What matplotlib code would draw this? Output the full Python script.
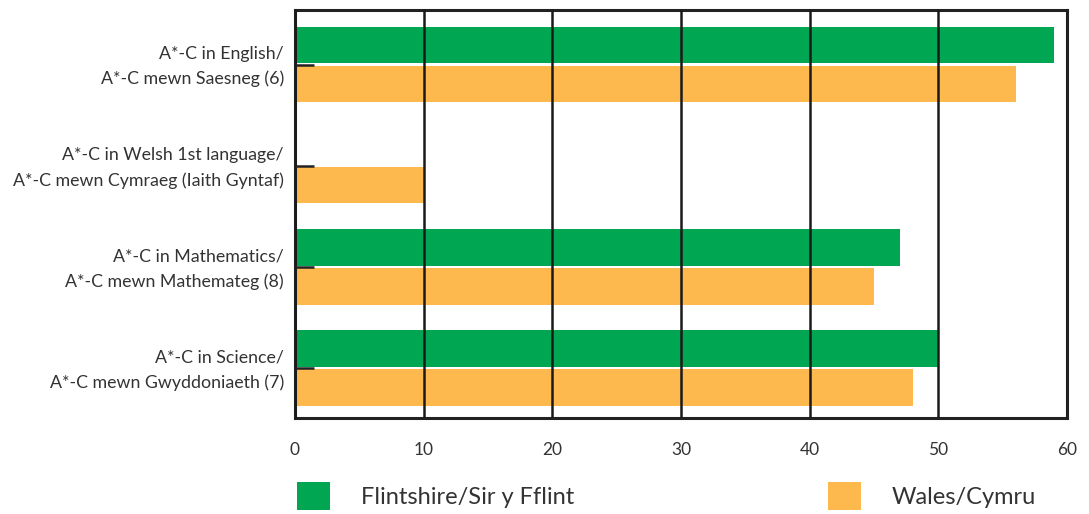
import matplotlib
matplotlib.use("Agg")
import matplotlib.pyplot as plt
import matplotlib.transforms as mtransforms
from matplotlib.patches import Patch
import numpy as np

categories = ["A*-C in English/\nA*-C mewn Saesneg (6)",
              "A*-C in Welsh 1st language/\nA*-C mewn Cymraeg (Iaith Gyntaf)",
              "A*-C in Mathematics/\nA*-C mewn Mathemateg (8)",
              "A*-C in Science/\nA*-C mewn Gwyddoniaeth (7)"]
flintshire = [59, 0, 47, 50]
wales = [56, 10, 45, 48]
series_names = ["Flintshire/Sir y Fflint", "Wales/Cymru"]
x_ticks = [0, 10, 20, 30, 40, 50, 60]

GREEN = "#00A651"
ORANGE = "#FDB94D"
TXT = "#333333"

plt.rcParams['font.family'] = ['Lato', 'DejaVu Sans']

fig = plt.figure(figsize=(10.89, 5.14), dpi=100)
ax = fig.add_axes([295/1089, 96/514, 772/1089, 408/514])

y = np.arange(len(categories))
h = 0.36
ax.barh(y - 0.195, flintshire, height=h, color=GREEN, zorder=1)
ax.barh(y + 0.19, wales, height=h, color=ORANGE, zorder=1)

ax.set_xlim(0, 60)
ax.set_ylim(3.49, -0.54)
ax.set_xticks(x_ticks)
ax.set_xticklabels([str(v) for v in x_ticks], fontsize=12.5, color=TXT)
ax.tick_params(axis='x', length=0, pad=17)
ax.set_yticks(y)
ax.set_yticklabels(categories, fontsize=12.8, color=TXT, linespacing=1.65)
ax.tick_params(axis='y', direction='in', length=14, width=1.8, color="#222222", pad=8)
shift = mtransforms.ScaledTranslation(0, 4/100, fig.dpi_scale_trans)
for lbl in ax.get_yticklabels():
    lbl.set_transform(lbl.get_transform() + shift)

ax.set_axisbelow(False)
ax.grid(axis='x', color="#1a1a1a", linewidth=1.8)
for s in ax.spines.values():
    s.set_color("#222222")
    s.set_linewidth(2.2)

h1 = Patch(facecolor=GREEN, edgecolor='none')
h2 = Patch(facecolor=ORANGE, edgecolor='none')
for handle, name, x0 in [(h1, series_names[0], 297), (h2, series_names[1], 828)]:
    fig.legend(handles=[handle], labels=[name], loc='center left',
               bbox_to_anchor=(x0/1089, 1 - 496/514), frameon=False,
               fontsize=17, handlelength=1.4, handleheight=1.4,
               handletextpad=1.3, borderpad=0, borderaxespad=0,
               labelcolor=TXT)

fig.savefig("out.png", dpi=100)
